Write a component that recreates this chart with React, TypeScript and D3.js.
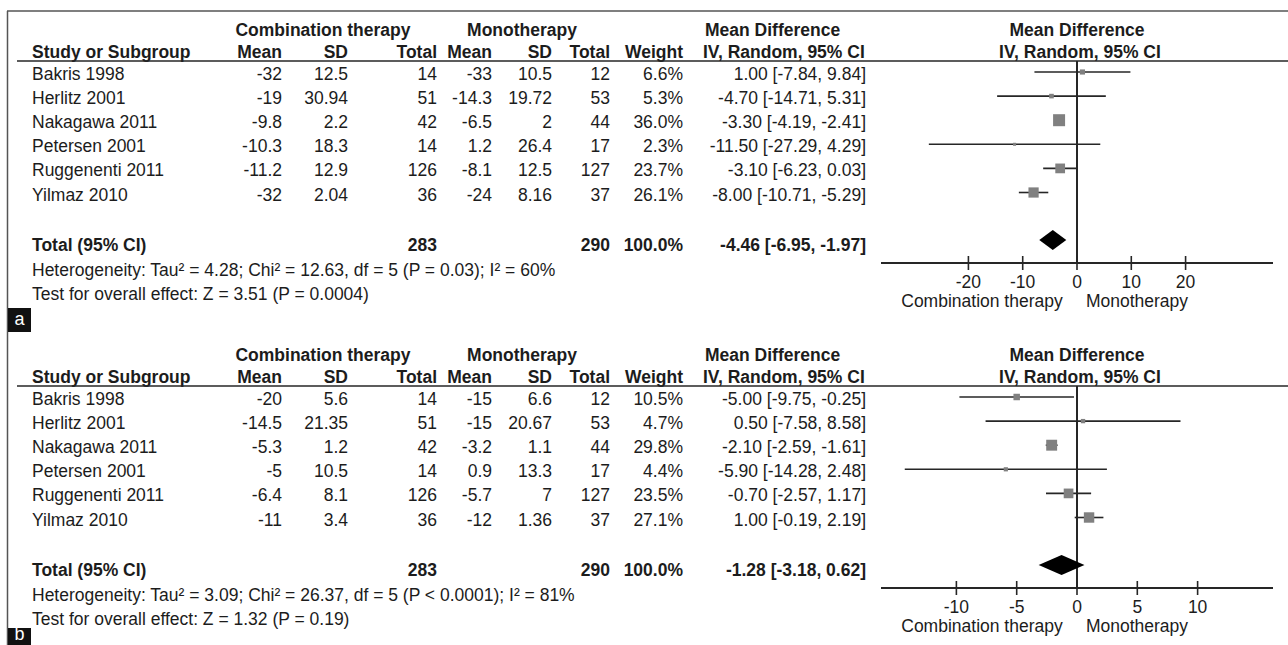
import * as d3 from 'd3';

// studies shared by both analyses
const studies = ['Bakris 1998', 'Herlitz 2001', 'Nakagawa 2011', 'Petersen 2001', 'Ruggenenti 2011', 'Yilmaz 2010'];
const comboTotals = [14, 51, 42, 14, 126, 36];
const monoTotals = [12, 53, 44, 17, 127, 37];

// panel a
const aComboMean = [-32, -19, -9.8, -10.3, -11.2, -32];
const aComboSD = [12.5, 30.94, 2.2, 18.3, 12.9, 2.04];
const aMonoMean = [-33, -14.3, -6.5, 1.2, -8.1, -24];
const aMonoSD = [10.5, 19.72, 2, 26.4, 12.5, 8.16];
const aWeight = [6.6, 5.3, 36.0, 2.3, 23.7, 26.1];
const aMD = [1.0, -4.7, -3.3, -11.5, -3.1, -8.0];
const aLow = [-7.84, -14.71, -4.19, -27.29, -6.23, -10.71];
const aHigh = [9.84, 5.31, -2.41, 4.29, 0.03, -5.29];
const aPooled = [-4.46, -6.95, -1.97];
const aTicks = [-20, -10, 0, 10, 20];
const aHetero = 'Heterogeneity: Tau² = 4.28; Chi² = 12.63, df = 5 (P = 0.03); I² = 60%';
const aEffect = 'Test for overall effect: Z = 3.51 (P = 0.0004)';

// panel b
const bComboMean = [-20, -14.5, -5.3, -5, -6.4, -11];
const bComboSD = [5.6, 21.35, 1.2, 10.5, 8.1, 3.4];
const bMonoMean = [-15, -15, -3.2, 0.9, -5.7, -12];
const bMonoSD = [6.6, 20.67, 1.1, 13.3, 7, 1.36];
const bWeight = [10.5, 4.7, 29.8, 4.4, 23.5, 27.1];
const bMD = [-5.0, 0.5, -2.1, -5.9, -0.7, 1.0];
const bLow = [-9.75, -7.58, -2.59, -14.28, -2.57, -0.19];
const bHigh = [-0.25, 8.58, -1.61, 2.48, 1.17, 2.19];
const bPooled = [-1.28, -3.18, 0.62];
const bTicks = [-10, -5, 0, 5, 10];
const bHetero = 'Heterogeneity: Tau² = 3.09; Chi² = 26.37, df = 5 (P < 0.0001); I² = 81%';
const bEffect = 'Test for overall effect: Z = 1.32 (P = 0.19)';

const totalCombo = 283;
const totalMono = 290;

const W = 1288;
const H = 645;
const FONT = '"Liberation Sans", Arial, sans-serif';
const FS = 17.5;
const INK = '#1c1c1c';
const LINE = '#262626';

interface PanelProps {
  top: number;
  label: string;
  tagY: number;
  tagBase: number;
  comboMean: number[];
  comboSD: number[];
  monoMean: number[];
  monoSD: number[];
  weight: number[];
  md: number[];
  low: number[];
  high: number[];
  pooled: number[];
  ticks: number[];
  span: number;
  hetero: string;
  effect: string;
}

const ci = (m: number, l: number, h: number) => `${m.toFixed(2)} [${l.toFixed(2)}, ${h.toFixed(2)}]`;

function Panel(p: PanelProps) {
  const x = d3.scaleLinear().domain([-p.span, p.span]).range([881, 1273]);
  const y = d3.scaleLinear().domain([0, 1]).range([72, 96.1]);
  const totalY = 240;
  const axisY = 263;
  const zero = x(0);

  // right-aligned column edges
  const cols = [282, 348, 437, 492, 552, 610, 683];
  const ciRight = 866;

  const diamond = d3.line()([
    [x(p.pooled[1]), totalY],
    [x(p.pooled[0]), totalY - 10],
    [x(p.pooled[2]), totalY],
    [x(p.pooled[0]), totalY + 10],
  ]) + 'Z';

  return (
    <g transform={`translate(0,${p.top})`} fontFamily={FONT} fontSize={FS} fill={INK}>
      {/* headers */}
      <g fontWeight="bold">
        <text x={323} y={36} textAnchor="middle">Combination therapy</text>
        <text x={522} y={36} textAnchor="middle">Monotherapy</text>
        <text x={705} y={36}>Mean Difference</text>
        <text x={1077} y={36} textAnchor="middle">Mean Difference</text>
        <text x={32} y={58}>Study or Subgroup</text>
        <text x={cols[0]} y={58} textAnchor="end">Mean</text>
        <text x={cols[1]} y={58} textAnchor="end">SD</text>
        <text x={cols[2]} y={58} textAnchor="end">Total</text>
        <text x={cols[3]} y={58} textAnchor="end">Mean</text>
        <text x={cols[4]} y={58} textAnchor="end">SD</text>
        <text x={cols[5]} y={58} textAnchor="end">Total</text>
        <text x={cols[6]} y={58} textAnchor="end">Weight</text>
        <text x={703} y={58}>IV, Random, 95% CI</text>
        <text x={1080} y={58} textAnchor="middle">IV, Random, 95% CI</text>
      </g>
      <line x1={17} x2={W} y1={61} y2={61} stroke={LINE} strokeWidth={1.6} />

      {/* study rows */}
      {studies.map((s, i) => {
        const ty = y(i) + 8;
        const vals = [p.comboMean[i], p.comboSD[i], comboTotals[i], p.monoMean[i], p.monoSD[i], monoTotals[i]];
        return (
          <g key={s}>
            <text x={32} y={ty}>{s}</text>
            {vals.map((v, j) => (
              <text key={j} x={cols[j]} y={ty} textAnchor="end">{String(v)}</text>
            ))}
            <text x={cols[6]} y={ty} textAnchor="end">{p.weight[i].toFixed(1)}%</text>
            <text x={ciRight} y={ty} textAnchor="end">{ci(p.md[i], p.low[i], p.high[i])}</text>
          </g>
        );
      })}

      {/* total row */}
      <g fontWeight="bold">
        <text x={32} y={totalY + 11}>Total (95% CI)</text>
        <text x={cols[2]} y={totalY + 11} textAnchor="end">{totalCombo}</text>
        <text x={cols[5]} y={totalY + 11} textAnchor="end">{totalMono}</text>
        <text x={cols[6]} y={totalY + 11} textAnchor="end">100.0%</text>
        <text x={ciRight} y={totalY + 11} textAnchor="end">{ci(p.pooled[0], p.pooled[1], p.pooled[2])}</text>
      </g>
      <text x={32} y={276}>{p.hetero}</text>
      <text x={32} y={300}>{p.effect}</text>

      {/* forest plot */}
      <line x1={zero} x2={zero} y1={61} y2={axisY} stroke={LINE} strokeWidth={2} />
      {studies.map((s, i) => {
        const side = 2 * Math.sqrt(p.weight[i]);
        const cy = y(i);
        return (
          <g key={s}>
            <line x1={x(p.low[i])} x2={x(p.high[i])} y1={cy} y2={cy} stroke={LINE} strokeWidth={1.6} />
            <rect x={x(p.md[i]) - side / 2} y={cy - side / 2} width={side} height={side} fill="#808080" />
          </g>
        );
      })}
      <path d={diamond} fill="#000" />

      <line x1={881} x2={1273} y1={axisY} y2={axisY} stroke={LINE} strokeWidth={2} />
      {p.ticks.map(t => (
        <g key={t}>
          <line x1={x(t)} x2={x(t)} y1={axisY - 7} y2={axisY + 7} stroke={LINE} strokeWidth={1.6} />
          <text x={x(t)} y={axisY + 25} textAnchor="middle">{String(t)}</text>
        </g>
      ))}
      <text x={982} y={axisY + 44} textAnchor="middle">Combination therapy</text>
      <text x={1137} y={axisY + 44} textAnchor="middle">Monotherapy</text>

      {/* panel tag */}
      <rect x={8} y={p.tagY} width={23} height={24} fill="#111" />
      <text x={19.5} y={p.tagBase} textAnchor="middle" fill="#fff" fontSize={18}>{p.label}</text>
    </g>
  );
}

export default function App() {
  return (
    <svg width={W} height={H} style={{ position: 'absolute', left: 0, top: 0, display: 'block', background: '#fff' }}>
      <rect width={W} height={H} fill="#fff" />
      <line x1={7} x2={W} y1={11} y2={11} stroke="#555" strokeWidth={1.5} />
      <line x1={7.5} x2={7.5} y1={11} y2={H} stroke="#555" strokeWidth={1.5} />
      <Panel top={0} label="a" tagY={308} tagBase={325} comboMean={aComboMean} comboSD={aComboSD} monoMean={aMonoMean} monoSD={aMonoSD}
        weight={aWeight} md={aMD} low={aLow} high={aHigh} pooled={aPooled} ticks={aTicks} span={36.1}
        hetero={aHetero} effect={aEffect} />
      <Panel top={325} label="b" tagY={303} tagBase={315} comboMean={bComboMean} comboSD={bComboSD} monoMean={bMonoMean} monoSD={bMonoSD}
        weight={bWeight} md={bMD} low={bLow} high={bHigh} pooled={bPooled} ticks={bTicks} span={16.25}
        hetero={bHetero} effect={bEffect} />
    </svg>
  );
}
